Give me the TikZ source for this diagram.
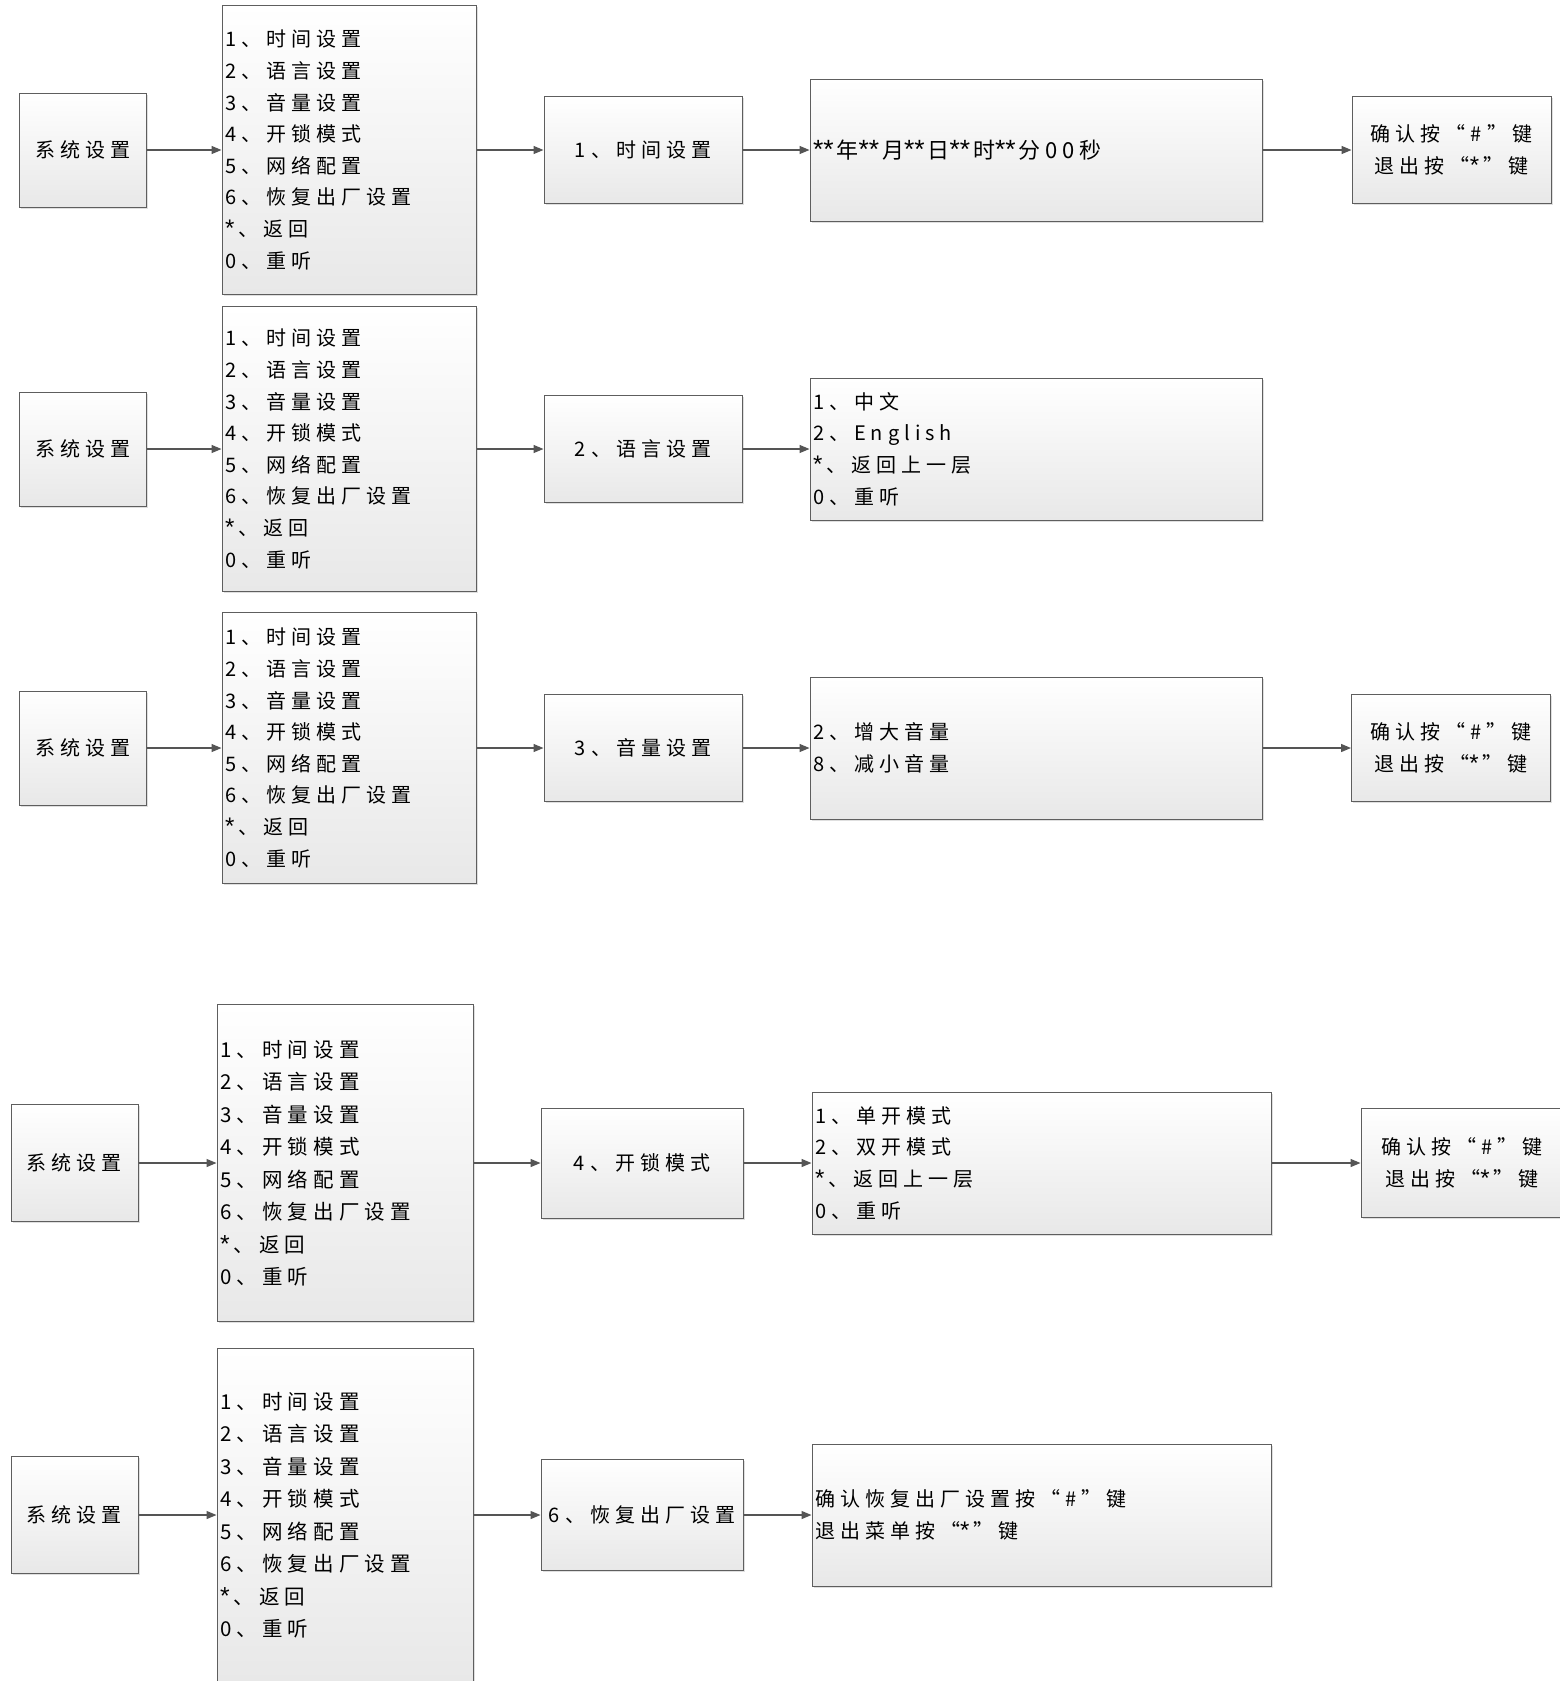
\documentclass[tikz,border=0pt]{standalone}
\usepackage{fontspec}
\setmainfont{Noto Sans CJK SC}[LetterSpace=25]
\newfontfamily\plaincjk{Noto Sans CJK SC}[LetterSpace=22]
\newfontfamily\starfont{Liberation Sans}[Scale=1.2]
\usetikzlibrary{arrows.meta,shadows}

\definecolor{boxline}{HTML}{5E5E5E}
\definecolor{boxfill}{HTML}{E8E8E8}
\definecolor{linkgray}{HTML}{555555}

\newcommand{\keystar}{{\starfont *}}
\newcommand{\twostars}{{\starfont **}\kern3pt}
\newcommand{\menulist}{1、时间设置\\2、语言设置\\3、音量设置\\4、开锁模式\\5、网络配置\\6、恢复出厂设置\\{\keystar}\kern4pt、返回\\0、重听}
\newcommand{\okexit}{确认按“\#”键\\退出按“\keystar\kern4pt”键}

\tikzset{
  box/.style={draw=boxline, line width=1pt, top color=white, bottom color=boxfill,
    drop shadow={shadow xshift=1.5pt, shadow yshift=-1.5pt, opacity=0.25},
    inner sep=0pt, font=\fontsize{20}{31.6}\selectfont},
  sysbox/.style={box, minimum width=127pt, minimum height=114pt},
  menubox/.style={box, inner xsep=3pt, text width=248pt, align=left},
  itembox/.style={box, minimum width=198pt, minimum height=107pt},
  listbox/.style={box, inner xsep=3pt, text width=446pt, align=left, minimum height=142pt},
  keybox/.style={box, minimum width=199pt, minimum height=107pt, align=center},
  link/.style={-{Triangle[length=10pt,width=8pt]}, draw=linkgray, line width=1.3pt}
}

\begin{document}
\begin{tikzpicture}[x=1pt,y=-1pt]
\useasboundingbox[fill=white] (0,0) rectangle (1560,1681);

% 1 time
\node[sysbox] (sys1) at (82.5,150) {系统设置};
\node[menubox, minimum height=289pt] (menu1) at (349,150) {\menulist};
\node[itembox] (item1) at (643,150) {1、时间设置};
\node[listbox] (list1) at (1036,150) {\plaincjk\fontsize{22}{30}\selectfont \twostars 年\twostars 月\twostars 日\twostars 时\twostars 分00秒};
\node[keybox] (key1) at (1451.5,150) {\okexit};
\draw[link] (sys1) -- (menu1);
\draw[link] (menu1) -- (item1);
\draw[link] (item1) -- (list1);
\draw[link] (list1) -- (key1);

% 2 language
\node[sysbox] (sys2) at (82.5,449) {系统设置};
\node[menubox, minimum height=285pt] (menu2) at (349,449) {\menulist};
\node[itembox] (item2) at (643,449) {2、语言设置};
\node[listbox] (list2) at (1036,449) {1、中文\\2、English\\{\keystar}\kern4pt、返回上一层\\0、重听};
\draw[link] (sys2) -- (menu2);
\draw[link] (menu2) -- (item2);
\draw[link] (item2) -- (list2);

% 3 volume
\node[sysbox] (sys3) at (82.5,748) {系统设置};
\node[menubox, minimum height=271pt] (menu3) at (349,748) {\menulist};
\node[itembox] (item3) at (643,748) {3、音量设置};
\node[listbox] (list3) at (1036,748) {2、增大音量\\8、减小音量};
\node[keybox] (key3) at (1451,748) {\okexit};
\draw[link] (sys3) -- (menu3);
\draw[link] (menu3) -- (item3);
\draw[link] (item3) -- (list3);
\draw[link] (list3) -- (key3);

% 4 lock mode
\node[sysbox, minimum height=117pt] (sys4) at (74.5,1163) {系统设置};
\node[menubox, text width=250pt, minimum height=317pt, font=\fontsize{20.5}{32.5}\selectfont] (menu4) at (345,1163) {\menulist};
\node[itembox, minimum width=202pt, minimum height=110pt] (item4) at (642,1163) {4、开锁模式};
\node[listbox, text width=453pt] (list4) at (1041.5,1163) {1、单开模式\\2、双开模式\\{\keystar}\kern4pt、返回上一层\\0、重听};
\node[keybox, minimum width=202pt, minimum height=109pt] (key4) at (1462,1163) {\okexit};
\draw[link] (sys4) -- (menu4);
\draw[link] (menu4) -- (item4);
\draw[link] (item4) -- (list4);
\draw[link] (list4) -- (key4);

% 6 factory reset
\node[sysbox, minimum height=117pt] (sys5) at (74.5,1515) {系统设置};
\node[menubox, text width=250pt, minimum height=334pt, font=\fontsize{20.5}{32.5}\selectfont] (menu5) at (345,1515) {\menulist};
\node[itembox, minimum width=202pt, minimum height=111pt] (item5) at (642,1515) {6、恢复出厂设置};
\node[listbox, text width=453pt] (list5) at (1041.5,1515) {确认恢复出厂设置按“\#”键\\退出菜单按“\keystar\kern4pt”键};
\draw[link] (sys5) -- (menu5);
\draw[link] (menu5) -- (item5);
\draw[link] (item5) -- (list5);
\end{tikzpicture}
\end{document}
